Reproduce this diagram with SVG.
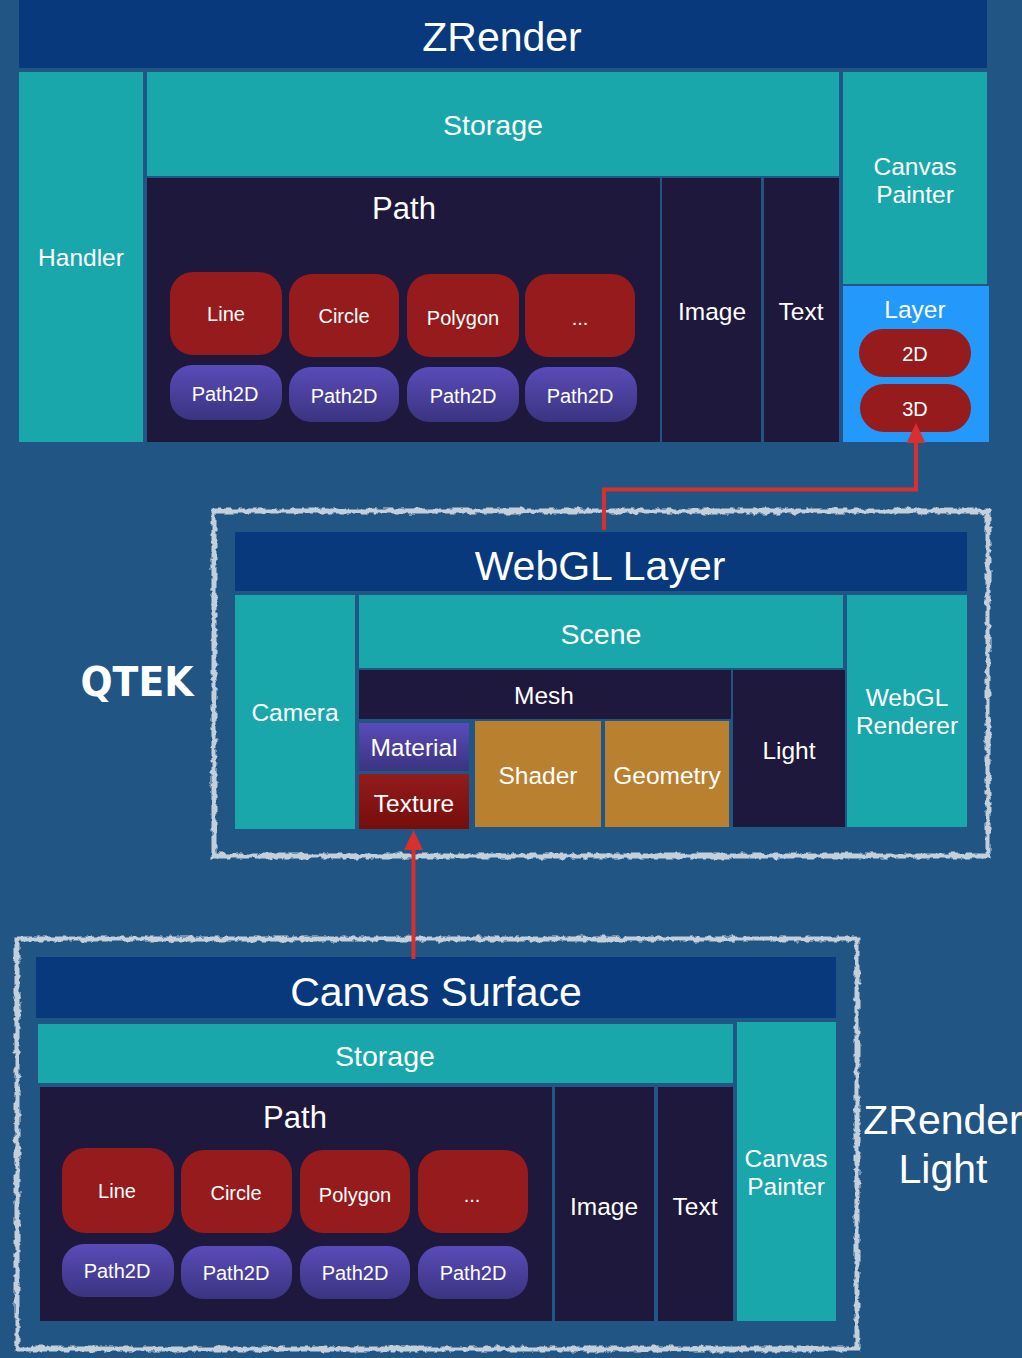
<svg xmlns="http://www.w3.org/2000/svg" width="1022" height="1358" viewBox="0 0 1022 1358">
<style>
text{font-family:"Liberation Sans",Arial,sans-serif;fill:#fff;text-anchor:middle}
.t41{font-size:41px}.t32{font-size:31px}.t28{font-size:28.5px}.t24{font-size:24.5px}.t20{font-size:20px}
.bar{fill:#07397c}.teal{fill:#19a7ab}.dark{fill:#1d183c}.gold{fill:#b98030}.red{fill:#951b1c}.blue{fill:#2299fb}
.pur{fill:url(#pur)}.tex{fill:url(#tex)}
.frame{fill:none;stroke:#c3cfdb;stroke-width:5;filter:url(#rough)}
.conn{fill:none;stroke:#d8302f;stroke-width:4}
</style>
<defs>
<linearGradient id="pur" x1="0" y1="0" x2="0" y2="1"><stop offset="0" stop-color="#5a4bb9"/><stop offset="1" stop-color="#3a3480"/></linearGradient>
<linearGradient id="tex" x1="0" y1="0" x2="0" y2="1"><stop offset="0" stop-color="#931b1c"/><stop offset="1" stop-color="#750e0a"/></linearGradient>
<filter id="rough" filterUnits="userSpaceOnUse" x="0" y="490" width="1022" height="868"><feTurbulence type="fractalNoise" baseFrequency="0.16" numOctaves="2" seed="4"/><feDisplacementMap in="SourceGraphic" scale="6" xChannelSelector="R" yChannelSelector="G"/></filter>
<marker id="ah" markerUnits="userSpaceOnUse" markerWidth="20" markerHeight="20" refX="0" refY="10" orient="auto"><polygon points="0,0.500 20,10 0,19.500" fill="#d8302f"/></marker>
</defs>
<rect width="1022" height="1358" fill="#215584"/>

<g id="zrender">
<g id="zr-title"><rect class="bar" x="19" y="0" width="968" height="68"/><text class="t41" x="502" y="51">ZRender</text></g>
<g id="zr-handler"><rect class="teal" x="19" y="72" width="124" height="370"/><text class="t24" x="81" y="266">Handler</text></g>
<g id="zr-storage"><rect class="teal" x="147" y="72" width="692" height="104"/><text class="t28" x="493" y="135">Storage</text></g>
<g id="zr-path"><rect class="dark" x="147" y="178" width="513" height="264"/><text class="t32" x="404" y="219">Path</text></g>
<g id="zr-image"><rect class="dark" x="662" y="178" width="99" height="264"/><text class="t24" x="712" y="320">Image</text></g>
<g id="zr-text"><rect class="dark" x="764" y="178" width="75" height="264"/><text class="t24" x="801" y="320">Text</text></g>
<g id="zr-painter"><rect class="teal" x="843" y="72" width="144" height="212"/><text class="t24" x="915" y="175">Canvas</text><text class="t24" x="915" y="203">Painter</text></g>
<g id="zr-layer"><rect class="blue" x="843" y="286" width="146" height="156"/><text class="t24" x="915" y="318">Layer</text></g>
<g id="zr-2d"><rect class="red" x="859" y="329" width="112" height="48" rx="24"/><text class="t20" x="915" y="361">2D</text></g>
<g id="zr-3d"><rect class="red" x="860" y="384" width="111" height="48" rx="24"/><text class="t20" x="915" y="416">3D</text></g>
<g id="zr-line"><rect class="red" x="170" y="272" width="112" height="83" rx="23"/><text class="t20" x="226" y="321">Line</text></g>
<g id="zr-circle"><rect class="red" x="289" y="274" width="110" height="83" rx="23"/><text class="t20" x="344" y="323">Circle</text></g>
<g id="zr-polygon"><rect class="red" x="407" y="274" width="112" height="83" rx="23"/><text class="t20" x="463" y="325">Polygon</text></g>
<g id="zr-more"><rect class="red" x="525" y="274" width="110" height="83" rx="23"/><text class="t20" x="580" y="325">...</text></g>
<g id="zr-p1"><rect class="pur" x="170" y="365" width="112" height="55" rx="22"/><text class="t20" x="225" y="401">Path2D</text></g>
<g id="zr-p2"><rect class="pur" x="289" y="367" width="110" height="55" rx="22"/><text class="t20" x="344" y="403">Path2D</text></g>
<g id="zr-p3"><rect class="pur" x="407" y="367" width="112" height="55" rx="22"/><text class="t20" x="463" y="403">Path2D</text></g>
<g id="zr-p4"><rect class="pur" x="525" y="367" width="112" height="55" rx="22"/><text class="t20" x="580" y="403">Path2D</text></g>
</g>

<g id="webgl">
<rect id="webgl-frame" class="frame" x="214" y="511" width="774" height="345"/>
<g id="gl-title"><rect class="bar" x="235" y="532" width="732" height="59"/><text class="t41" x="600" y="580">WebGL Layer</text></g>
<g id="gl-camera"><rect class="teal" x="235" y="595" width="120" height="234"/><text class="t24" x="295" y="721">Camera</text></g>
<g id="gl-scene"><rect class="teal" x="359" y="595" width="484" height="73"/><text class="t28" x="601" y="644">Scene</text></g>
<g id="gl-mesh"><rect class="dark" x="359" y="670" width="372" height="49"/><text class="t24" x="544" y="704">Mesh</text></g>
<g id="gl-material"><rect class="pur" x="359" y="723" width="110" height="48"/><text class="t24" x="414" y="756">Material</text></g>
<g id="gl-texture"><rect class="tex" x="359" y="774" width="110" height="55"/><text class="t24" x="414" y="812">Texture</text></g>
<g id="gl-shader"><rect class="gold" x="475" y="721" width="126" height="106"/><text class="t24" x="538" y="784">Shader</text></g>
<g id="gl-geometry"><rect class="gold" x="605" y="721" width="124" height="106"/><text class="t24" x="667" y="784">Geometry</text></g>
<g id="gl-light"><rect class="dark" x="733" y="670" width="112" height="157"/><text class="t24" x="789" y="759">Light</text></g>
<g id="gl-renderer"><rect class="teal" x="847" y="595" width="120" height="232"/><text class="t24" x="907" y="706">WebGL</text><text class="t24" x="907" y="734">Renderer</text></g>
</g>

<g id="qtek-logo"><text x="137" y="696" font-size="40" font-weight="700" style="font-family:'DejaVu Sans',sans-serif" textLength="113" lengthAdjust="spacingAndGlyphs">QTEK</text></g>

<g id="canvas-surface">
<rect id="cs-frame" class="frame" x="17" y="939" width="840" height="410"/>
<g id="cs-title"><rect class="bar" x="36" y="957" width="800" height="61"/><text class="t41" x="436" y="1006">Canvas Surface</text></g>
<g id="cs-storage"><rect class="teal" x="38" y="1024" width="695" height="59"/><text class="t28" x="385" y="1066">Storage</text></g>
<g id="cs-path"><rect class="dark" x="40" y="1087" width="512" height="234"/><text class="t32" x="295" y="1128">Path</text></g>
<g id="cs-image"><rect class="dark" x="555" y="1087" width="99" height="234"/><text class="t24" x="604" y="1215">Image</text></g>
<g id="cs-text"><rect class="dark" x="658" y="1087" width="75" height="234"/><text class="t24" x="695" y="1215">Text</text></g>
<g id="cs-painter"><rect class="teal" x="737" y="1022" width="99" height="299"/><text class="t24" x="786" y="1167">Canvas</text><text class="t24" x="786" y="1195">Painter</text></g>
<g id="cs-line"><rect class="red" x="62" y="1148" width="112" height="85" rx="23"/><text class="t20" x="117" y="1198">Line</text></g>
<g id="cs-circle"><rect class="red" x="181" y="1150" width="111" height="83" rx="23"/><text class="t20" x="236" y="1200">Circle</text></g>
<g id="cs-polygon"><rect class="red" x="300" y="1150" width="110" height="83" rx="23"/><text class="t20" x="355" y="1202">Polygon</text></g>
<g id="cs-more"><rect class="red" x="418" y="1150" width="110" height="83" rx="23"/><text class="t20" x="472" y="1202">...</text></g>
<g id="cs-p1"><rect class="pur" x="62" y="1244" width="112" height="53" rx="22"/><text class="t20" x="117" y="1278">Path2D</text></g>
<g id="cs-p2"><rect class="pur" x="181" y="1246" width="111" height="53" rx="22"/><text class="t20" x="236" y="1280">Path2D</text></g>
<g id="cs-p3"><rect class="pur" x="300" y="1246" width="110" height="53" rx="22"/><text class="t20" x="355" y="1280">Path2D</text></g>
<g id="cs-p4"><rect class="pur" x="418" y="1246" width="110" height="53" rx="22"/><text class="t20" x="473" y="1280">Path2D</text></g>
</g>

<g id="zrender-light-label"><text class="t41" x="943" y="1134">ZRender</text><text class="t41" x="943" y="1183">Light</text></g>

<g id="connectors">
<path class="conn" d="M604 530V489.500H916V443" marker-end="url(#ah)"/>
<path class="conn" d="M413.500 959V850" marker-end="url(#ah)"/>
</g>
</svg>
